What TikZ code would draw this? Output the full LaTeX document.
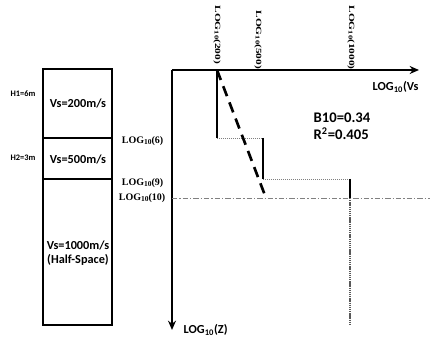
\documentclass[tikz,border=0pt]{standalone}
\usepackage{fontspec}
\setmainfont{Liberation Serif}
\newfontfamily\calfont{Carlito}
\usetikzlibrary{arrows.meta}
\newcommand{\LOGt}{LOG\raisebox{-0.15ex}{\fontsize{0.75em}{1em}\selectfont 10}}
\newcommand{\LOGs}{LOG\textsubscript{10}}

\begin{document}
\begin{tikzpicture}[x=0.75pt,y=-0.75pt,>={Stealth[length=7pt,width=6pt]},
  sanslab/.style={font=\calfont\bfseries\fontsize{9.2}{11}\selectfont},
  smalllab/.style={font=\calfont\bfseries\fontsize{6.3}{8}\selectfont},
  loglab/.style={font=\bfseries\fontsize{7.5}{8}\selectfont},
  ticklab/.style={font=\bfseries\fontsize{8.5}{9}\selectfont,rotate=-90,anchor=west,inner sep=1pt},
  steps/.style={line width=1.5pt},
  guide/.style={gray,densely dotted,line width=0.5pt}]
  \useasboundingbox (0,0) rectangle (430,338);

  % soil column
  \draw[line width=1pt] (43,69) rectangle (112,325);
  \draw[line width=1pt] (43,138) -- (112,138);
  \draw[line width=1pt] (43,179) -- (112,179);
  \node[sanslab] (v1) at (78,103) {Vs=200m/s};
  \node[sanslab] (v2) at (78,159) {Vs=500m/s};
  \node[sanslab,align=center] (v3) at (78,253) {Vs=1000m/s\\(Half-Space)};
  \node[smalllab] (h1) at (23,94) {H1=6m};
  \node[smalllab] (h2) at (23,158) {H2=3m};

  % axes
  \coordinate (O) at (172,70);
  \coordinate (xend) at (419,70);
  \coordinate (yend) at (172,330);
  \draw[->,line width=1.5pt] (O) -- (xend);
  \draw[->,line width=1.5pt] (O) -- (yend);
  \node[sanslab,anchor=west] (xl) at (368,87) {\LOGs(Vs};
  \node[sanslab,anchor=west] (zl) at (179,330) {\LOGs(Z)};

  % velocity ticks (rotated, condensed)
  \node[ticklab] (t200) at (217,4) {\scalebox{1}[0.7]{\LOGt(200)}};
  \node[ticklab] (t500) at (258,9) {\scalebox{1}[0.7]{\LOGt(500)}};
  \node[ticklab] (t1000) at (351,4) {\scalebox{1}[0.7]{\LOGt(1000)}};

  % depth ticks
  \node[loglab,anchor=east] (z6) at (168,141) {\LOGt(6)};
  \node[loglab,anchor=east] (z9) at (168,183) {\LOGt(9)};
  \node[loglab,anchor=east] (z10) at (170,198) {\LOGt(10)};

  % step profile
  \coordinate (a) at (217,70);
  \coordinate (b) at (217,138);
  \coordinate (c) at (263,138);
  \coordinate (d) at (263,179);
  \coordinate (e) at (350,179);
  \coordinate (f) at (350,198);
  \coordinate (g) at (350,325);
  \draw[steps] (a) -- (b);
  \draw[guide] (b) -- (c);
  \draw[steps] (c) -- (d);
  \draw[guide] (d) -- (e);
  \draw[steps] (e) -- (f);
  \draw[gray!70!black,line width=1.5pt,dash pattern=on 1pt off 0.6pt] (f) -- (g);

  % reference depth line log10(10)
  \coordinate (r0) at (172,198);
  \coordinate (r1) at (430,198);
  \draw[gray,line width=0.6pt,dash pattern=on 4pt off 1.5pt on 1pt off 1.5pt] (r0) -- (r1);

  % regression line
  \coordinate (p) at (266,198);
  \draw[line width=2pt,dash pattern=on 8pt off 5pt] (a) -- (p);
  \node[anchor=west,align=left,font=\calfont\bfseries\fontsize{11}{13}\selectfont] (fit) at (309,126) {B10=0.34\\R\textsuperscript{2}=0.405};
\end{tikzpicture}
\end{document}
